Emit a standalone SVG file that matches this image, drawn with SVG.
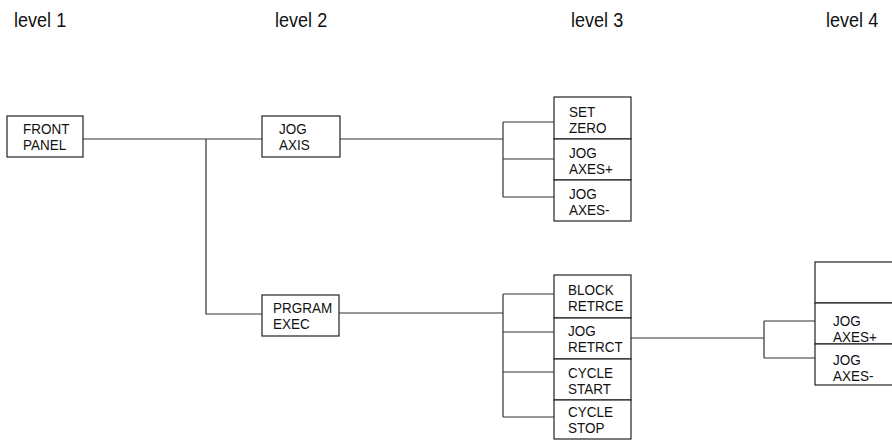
<svg xmlns="http://www.w3.org/2000/svg" width="892" height="442" viewBox="0 0 892 442">
<style>
.box{fill:#fff;stroke:#222;stroke-width:1.2}
.t{font-family:"Liberation Sans",Arial,sans-serif;font-size:15px;fill:#111}
.h{font-family:"Liberation Sans",Arial,sans-serif;font-size:21px;fill:#111}
.c{fill:none;stroke:#333;stroke-width:1.2}
</style>
<rect width="892" height="442" fill="#fff"/>
<g id="headers">
<text class="h" transform="translate(14,27) scale(0.86,1)">level 1</text>
<text class="h" transform="translate(275,27) scale(0.86,1)">level 2</text>
<text class="h" transform="translate(571,27) scale(0.86,1)">level 3</text>
<text class="h" transform="translate(826,27) scale(0.86,1)">level 4</text>
</g>
<g id="connectors">
<path class="c" d="M83 139H262M206 139V314H262"/>
<path class="c" d="M340 139H503M503 122V197M503 122H554M503 159H554M503 197H554"/>
<path class="c" d="M339 313H503M503 294V417M503 294H554M503 332H554M503 372H554M503 417H554"/>
<path class="c" d="M631 338H764M764 321V358M764 321H815M764 358H815"/>
</g>
<g id="front-panel"><rect class="box" x="7" y="116" width="76" height="41"/><text class="t" transform="translate(23,134) scale(0.9,1)">FRONT</text><text class="t" transform="translate(23,150) scale(0.9,1)">PANEL</text></g>
<g id="jog-axis"><rect class="box" x="262" y="116" width="78" height="41"/><text class="t" transform="translate(279,134) scale(0.9,1)">JOG</text><text class="t" transform="translate(279,150) scale(0.9,1)">AXIS</text></g>
<g id="prgram-exec"><rect class="box" x="262" y="295" width="77" height="41"/><text class="t" transform="translate(273,313) scale(0.9,1)">PRGRAM</text><text class="t" transform="translate(273,329) scale(0.9,1)">EXEC</text></g>
<g id="set-zero"><rect class="box" x="554" y="97" width="77" height="42"/><text class="t" transform="translate(569,117) scale(0.9,1)">SET</text><text class="t" transform="translate(569,133) scale(0.9,1)">ZERO</text></g>
<g id="jog-axes-plus"><rect class="box" x="554" y="139" width="77" height="41"/><text class="t" transform="translate(569,158) scale(0.9,1)">JOG</text><text class="t" transform="translate(569,174) scale(0.9,1)">AXES+</text></g>
<g id="jog-axes-minus"><rect class="box" x="554" y="180" width="77" height="41"/><text class="t" transform="translate(569,199) scale(0.9,1)">JOG</text><text class="t" transform="translate(569,215) scale(0.9,1)">AXES-</text></g>
<g id="block-retrce"><rect class="box" x="554" y="275" width="77" height="43"/><text class="t" transform="translate(568,295) scale(0.9,1)">BLOCK</text><text class="t" transform="translate(568,311) scale(0.9,1)">RETRCE</text></g>
<g id="jog-retrct"><rect class="box" x="554" y="318" width="77" height="41"/><text class="t" transform="translate(568,336) scale(0.9,1)">JOG</text><text class="t" transform="translate(568,352) scale(0.9,1)">RETRCT</text></g>
<g id="cycle-start"><rect class="box" x="554" y="359" width="77" height="41"/><text class="t" transform="translate(568,378) scale(0.9,1)">CYCLE</text><text class="t" transform="translate(568,394) scale(0.9,1)">START</text></g>
<g id="cycle-stop"><rect class="box" x="554" y="400" width="77" height="39"/><text class="t" transform="translate(568,417) scale(0.9,1)">CYCLE</text><text class="t" transform="translate(568,433) scale(0.9,1)">STOP</text></g>
<g id="level4-empty"><rect class="box" x="815" y="262" width="80" height="41"/></g>
<g id="level4-jog-plus"><rect class="box" x="815" y="303" width="80" height="41"/><text class="t" transform="translate(833,326) scale(0.9,1)">JOG</text><text class="t" transform="translate(833,342) scale(0.9,1)">AXES+</text></g>
<g id="level4-jog-minus"><rect class="box" x="815" y="344" width="80" height="41"/><text class="t" transform="translate(833,365) scale(0.9,1)">JOG</text><text class="t" transform="translate(833,381) scale(0.9,1)">AXES-</text></g>
</svg>
